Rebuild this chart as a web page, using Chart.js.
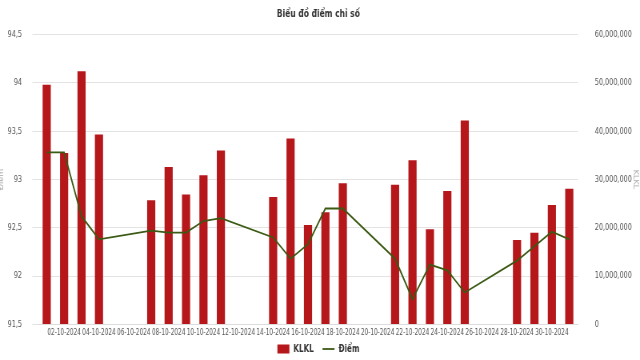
<!DOCTYPE html>
<html>
<head>
<meta charset="utf-8">
<script src="https://cdn.jsdelivr.net/npm/chart.js@4.4.1/dist/chart.umd.min.js"></script>
<style>
html,body{margin:0;padding:0;background:#fff;overflow:hidden;}
#c{display:block;}
</style>
</head>
<body>
<canvas id="c" width="800" height="360" style="width:640px;height:360px;"></canvas>
<script>
const dates = ["01-10-2024","02-10-2024","03-10-2024","04-10-2024","05-10-2024","06-10-2024","07-10-2024","08-10-2024","09-10-2024","10-10-2024","11-10-2024","12-10-2024","13-10-2024","14-10-2024","15-10-2024","16-10-2024","17-10-2024","18-10-2024","19-10-2024","20-10-2024","21-10-2024","22-10-2024","23-10-2024","24-10-2024","25-10-2024","26-10-2024","27-10-2024","28-10-2024","29-10-2024","30-10-2024","31-10-2024"];
const klkl = [49600000,35500000,52400000,39300000,null,null,25700000,32600000,26900000,30900000,36000000,null,null,26400000,38500000,20600000,23200000,29200000,null,null,28900000,34000000,19700000,27600000,42200000,null,null,17500000,19000000,24700000,28100000];
const diem = [93.28,93.28,92.62,92.38,null,null,92.47,92.45,92.45,92.57,92.60,null,null,92.40,92.18,92.33,92.70,92.70,null,null,92.18,91.76,92.12,92.06,91.83,null,null,92.16,92.31,92.46,92.38];
const leftTicks = [91.5,92,92.5,93,93.5,94,94.5];
const rightTicks = [0,10000000,20000000,30000000,40000000,50000000,60000000];

const FONT = "'DejaVu Sans Condensed','DejaVu Sans',sans-serif";

new Chart(document.getElementById('c'), {
  data: {
    labels: dates,
    datasets: [
      {
        type: 'line',
        label: 'Điểm',
        data: diem,
        yAxisID: 'y',
        borderColor: '#3b5a14',
        backgroundColor: '#3b5a14',
        borderWidth: 1.8,
        pointRadius: 0,
        pointStyle: 'line',
        spanGaps: true,
        tension: 0,
        order: 0
      },
      {
        type: 'bar',
        label: 'KLKL',
        data: klkl,
        yAxisID: 'y1',
        backgroundColor: '#b5171b',
        borderWidth: 0,
        pointStyle: 'rect',
        barPercentage: 0.52,
        categoryPercentage: 0.9,
        order: 1
      }
    ]
  },
  options: {
    responsive: false,
    animation: false,
    devicePixelRatio: 1,
    layout: { padding: { left: -4, right: 0, top: 6, bottom: -4 } },
    plugins: {
      title: {
        display: true,
        text: 'Biểu đồ điểm chỉ số',
        color: '#333',
        font: { family: FONT, size: 10.5, weight: 'bold' },
        padding: { top: 2, bottom: 14 }
      },
      legend: {
        position: 'bottom',
        reverse: true,
        labels: {
          usePointStyle: true,
          pointStyleWidth: 15,
          color: '#333',
          font: { family: FONT, size: 10, weight: 'bold' },
          boxWidth: 14,
          boxHeight: 9,
          padding: 2,
          generateLabels: (chart) => {
            const items = Chart.defaults.plugins.legend.labels.generateLabels(chart);
            items.forEach(it => { if (it.text === 'KLKL') it.text = 'KLKL\u2003'; });
            return items;
          }
        }
      },
      tooltip: { enabled: false }
    },
    scales: {
      x: {
        grid: { display: false, drawTicks: false },
        border: { display: true, color: '#dddddd' },
        ticks: {
          autoSkip: false,
          maxRotation: 0,
          minRotation: 0,
          color: '#555',
          font: { family: FONT, size: 8 },
          padding: 4,
          callback: function(v, i) { return i % 2 === 1 ? this.getLabelForValue(v) : ''; }
        }
      },
      y: {
        position: 'left',
        min: 91.5,
        max: 94.5,
        afterBuildTicks: (axis) => { axis.ticks = leftTicks.map(v => ({ value: v })); },
        afterFit: (axis) => { axis.width = 51.5; },
        grid: { color: '#e3e3e3', drawTicks: true, tickLength: 7 },
        border: { display: false },
        title: { display: true, text: 'Điểm', color: '#aaa', font: { family: FONT, size: 9 }, padding: 0 },
        ticks: {
          color: '#555',
          font: { family: FONT, size: 9 },
          padding: 13,
          callback: (v) => String(v).replace('.', ',')
        }
      },
      y1: {
        position: 'right',
        min: 0,
        max: 60000000,
        afterBuildTicks: (axis) => { axis.ticks = rightTicks.map(v => ({ value: v })); },
        afterFit: (axis) => { axis.width = 77.5; },
        grid: { drawOnChartArea: false, drawTicks: false },
        border: { display: false },
        title: { display: true, text: 'KLKL', color: '#aaa', font: { family: FONT, size: 9 }, padding: 0 },
        ticks: {
          color: '#555',
          font: { family: FONT, size: 9 },
          padding: 21,
          callback: (v) => v.toLocaleString('en-US')
        }
      }
    }
  }
});
</script>
</body>
</html>
